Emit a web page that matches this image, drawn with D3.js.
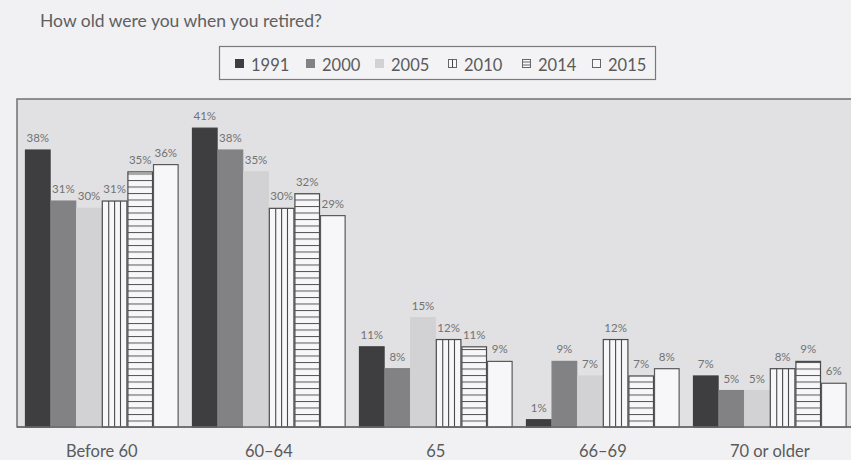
<!DOCTYPE html>
<html>
<head>
<meta charset="utf-8">
<script src="https://cdn.jsdelivr.net/npm/d3@7"></script>
<style>
  html, body { margin: 0; padding: 0; background: #f1f1f3; }
  svg { display: block; }
  text { font-family: Lato, "Open Sans", sans-serif; fill: #5a5a5a; }
</style>
</head>
<body>
<svg id="chart" width="851" height="460"></svg>
<script>
// Age groups and survey years
const categories = ["Before 60", "60\u201364", "65", "66\u201369", "70 or older"];
const years = ["1991", "2000", "2005", "2010", "2014", "2015"];

// Share of retirees (%) per survey year, in category order
const v1991 = [38, 41, 11, 1, 7];
const v2000 = [31, 38, 8, 9, 5];
const v2005 = [30, 35, 15, 7, 5];
const v2010 = [31, 30, 12, 12, 8];
const v2014 = [35, 32, 11, 7, 9];
const v2015 = [36, 29, 9, 8, 6];

const seriesValues = [v1991, v2000, v2005, v2010, v2014, v2015];
const yTicks = [0, 45];

const svg = d3.select("#chart");

// Plot geometry
const plot = { left: 17, top: 99, right: 870, bottom: 427 };

const x0 = d3.scaleBand().domain(categories)
  .range([18.3, 18.3 + 835]).paddingInner(0.08).paddingOuter(0.04);
const x1 = d3.scaleBand().domain(years).range([0, x0.bandwidth()]);
const y = d3.scaleLinear().domain(yTicks).range([plot.bottom, plot.top]);

// Styles per series
const fills = {
  "1991": "#3e3e40",
  "2000": "#828284",
  "2005": "#d2d2d4",
  "2010": "#f7f7f9",
  "2014": "#f7f7f9",
  "2015": "#f7f7f9"
};
const strokes = {
  "1991": "#3e3e40",
  "2000": "#828284",
  "2005": "#d2d2d4",
  "2010": "#4a4a4a",
  "2014": "#4a4a4a",
  "2015": "#5a5a5a"
};

const defs = svg.append("defs");
// horizontal stripes, anchored to the baseline
const hp = defs.append("pattern").attr("id", "hstripe")
  .attr("patternUnits", "userSpaceOnUse")
  .attr("width", 10).attr("height", 6.5)
  .attr("y", plot.bottom);
hp.append("rect").attr("width", 10).attr("height", 6.5).attr("fill", "#f7f7f9");
hp.append("line").attr("x1", 0).attr("x2", 10).attr("y1", 0.5).attr("y2", 0.5)
  .attr("stroke", "#555").attr("stroke-width", 1);

// title
svg.append("text").attr("x", 40).attr("y", 27)
  .attr("font-size", 17.5).style("fill", "#606060")
  .text("How old were you when you retired?");

// legend
const legend = svg.append("g");
legend.append("rect").attr("x", 219.5).attr("y", 46.5).attr("width", 436).attr("height", 33)
  .attr("fill", "#f3f3f5").attr("stroke", "#7a7a7a").attr("stroke-width", 1.2);
const legendX = [235, 306, 375, 448, 522, 592];
years.forEach((yr, i) => {
  const g = legend.append("g").attr("transform", `translate(${legendX[i]},59)`);
  const isPat = (yr === "2010" || yr === "2014" || yr === "2015");
  g.append("rect").attr("x", 0.5).attr("y", 0.5).attr("width", 8).attr("height", 8)
    .attr("fill", fills[yr]).attr("stroke", isPat ? "#666" : fills[yr]).attr("stroke-width", 1);
  if (yr === "2010") {
    g.append("line").attr("x1", 4.5).attr("x2", 4.5).attr("y1", 0.5).attr("y2", 8.5)
      .attr("stroke", "#444");
  }
  if (yr === "2014") {
    [3, 6].forEach(yy => g.append("line").attr("x1", 0.5).attr("x2", 8.5)
      .attr("y1", yy).attr("y2", yy).attr("stroke", "#666"));
  }
  g.append("text").attr("x", 16).attr("y", 11.5).attr("font-size", 16.5).text(yr);
});

// plot area
svg.append("rect").attr("x", plot.left).attr("y", plot.top)
  .attr("width", plot.right - plot.left).attr("height", plot.bottom - plot.top)
  .attr("fill", "#e1e1e3").attr("stroke", "#707072").attr("stroke-width", 1.5);

// bars
const rows = [];
categories.forEach((c, ci) => {
  years.forEach((yr, si) => rows.push({ cat: c, year: yr, value: seriesValues[si][ci] }));
});

const bars = svg.append("g").selectAll("g.bar").data(rows).join("g").attr("class", "bar")
  .attr("transform", d => `translate(${x0(d.cat) + x1(d.year)},0)`);

bars.append("rect")
  .attr("x", 0.5)
  .attr("y", d => y(d.value))
  .attr("width", x1.bandwidth() - 1)
  .attr("height", d => y(0) - y(d.value))
  .attr("fill", d => d.year === "2014" ? "url(#hstripe)" : fills[d.year])
  .attr("stroke", d => strokes[d.year])
  .attr("stroke-width", 1.2);

// vertical stripes in the 2010 bars
bars.filter(d => d.year === "2010").each(function (d) {
  const g = d3.select(this);
  const bw = x1.bandwidth();
  [0.27, 0.5, 0.73].forEach(f => {
    g.append("line")
      .attr("x1", bw * f).attr("x2", bw * f)
      .attr("y1", y(d.value)).attr("y2", y(0))
      .attr("stroke", "#4a4a4a").attr("stroke-width", 1.1);
  });
});

// value labels
bars.append("text")
  .attr("x", x1.bandwidth() / 2)
  .attr("y", d => y(d.value) - 8)
  .attr("text-anchor", "middle")
  .attr("font-size", 11.5)
  .style("fill", "#727272")
  .text(d => d.value + "%");

// baseline axis
const xAxis = d3.axisBottom(x0).tickSize(0).tickPadding(18);
const ax = svg.append("g").attr("transform", `translate(0,${plot.bottom})`).call(xAxis);
ax.select(".domain").attr("stroke", "#6a6a6a").attr("stroke-width", 1.5)
  .attr("d", `M${plot.left},0H${plot.right}`);
ax.selectAll(".tick text").attr("font-size", 16.5).attr("font-family", "Lato, 'Open Sans', sans-serif")
  .style("fill", "#5a5a5a");
</script>
</body>
</html>
